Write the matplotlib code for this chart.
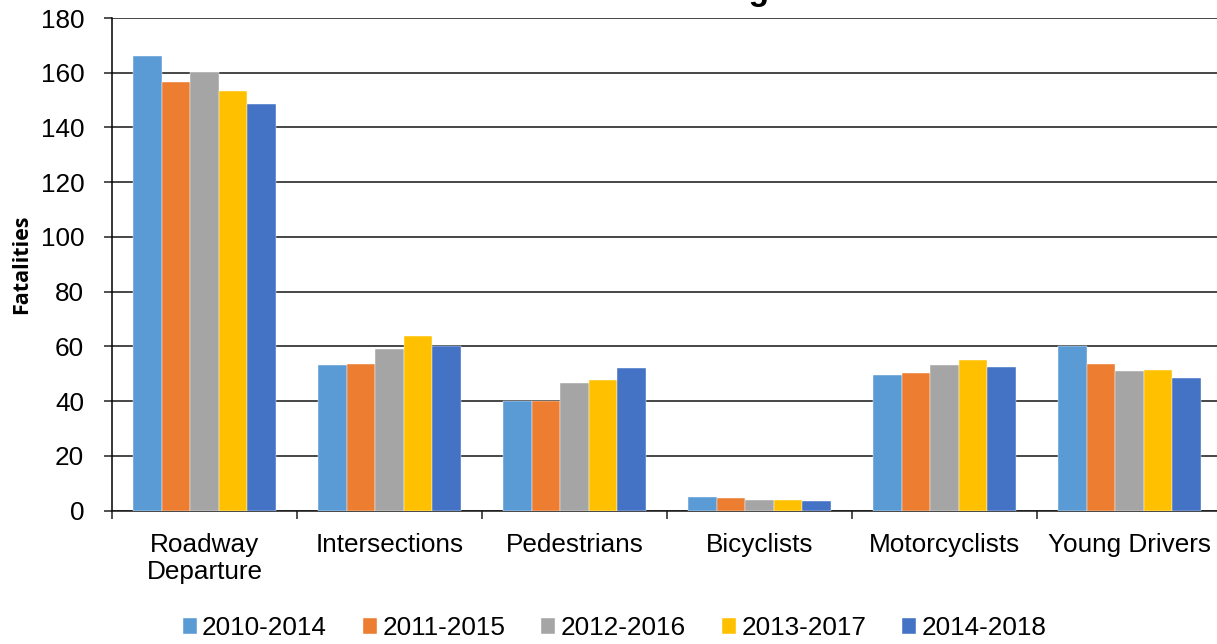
import matplotlib
matplotlib.use("Agg")
import matplotlib.pyplot as plt
import numpy as np

categories = ["Roadway\nDeparture", "Intersections", "Pedestrians", "Bicyclists",
              "Motorcyclists", "Young Drivers"]
series_names = ["2010-2014", "2011-2015", "2012-2016", "2013-2017", "2014-2018"]
v_2010_2014 = [166.0, 53.3, 40.2, 5.1, 49.7, 60.2]
v_2011_2015 = [156.5, 53.6, 40.0, 4.4, 50.4, 53.7]
v_2012_2016 = [160.2, 58.9, 46.6, 4.0, 53.3, 51.1]
v_2013_2017 = [153.2, 63.8, 47.6, 3.7, 55.0, 51.5]
v_2014_2018 = [148.7, 60.0, 52.0, 3.3, 52.6, 48.6]
series_values = [v_2010_2014, v_2011_2015, v_2012_2016, v_2013_2017, v_2014_2018]
colors = ["#5B9BD5", "#ED7D31", "#A5A5A5", "#FFC000", "#4472C4"]
y_ticks = [0, 20, 40, 60, 80, 100, 120, 140, 160, 180]

plt.rcParams['font.family'] = ['Liberation Sans', 'DejaVu Sans']

W, H = 1217, 644
fig = plt.figure(figsize=(W / 100, H / 100), dpi=100)
ax = fig.add_axes([112 / W, 1 - 510.5 / H, (1222 - 112) / W, (510.5 - 18) / H])

x = np.arange(len(categories))
bw = 0.154
n = len(series_names)
for i, (name, vals, c) in enumerate(zip(series_names, series_values, colors)):
    offs = (i - (n - 1) / 2) * bw
    ax.bar(x + offs, vals, width=bw, color=c, label=name, zorder=3,
           edgecolor='white', linewidth=0.3)

ax.set_xlim(-0.5, len(categories) - 0.5)
ax.set_ylim(0, 180)
ax.set_yticks(y_ticks)
ax.set_yticklabels([str(t) for t in y_ticks])
ax.yaxis.grid(True, color='#151515', linewidth=1.1, zorder=0)
ax.set_axisbelow(True)

ax.set_xticks(x)
ax.set_xticklabels(categories, linespacing=1.15)
ax.set_xticks(np.arange(len(categories) + 1) - 0.5, minor=True)
ax.tick_params(axis='x', which='major', length=0, pad=16, labelsize=18.8)
ax.tick_params(axis='x', which='minor', length=6, width=1.1, color='#202020', direction='out')
ax.tick_params(axis='y', length=6, width=1.1, color='#202020', pad=14, labelsize=18.8)

for s in ['top', 'right']:
    ax.spines[s].set_visible(False)
ax.spines['left'].set_color('black')
ax.spines['left'].set_linewidth(1.1)
ax.spines['bottom'].set_color('#151515')
ax.spines['bottom'].set_linewidth(1.1)

ax.set_ylabel("Fatalities", fontsize=15.5, fontweight='bold',
              family=['Open Sans', 'DejaVu Sans'])
ax.yaxis.set_label_coords(-80 / (1222 - 112), 0.5)

fig.text(769 / W, 1.0, "5-Year Rolling", ha='right', va='baseline',
         fontsize=24, fontweight='bold')

leg = fig.legend(loc='center', bbox_to_anchor=(0.505, 1 - 628 / H), ncol=5,
                 frameon=False, fontsize=18.8, handlelength=0.54, handleheight=0.54,
                 handletextpad=0.2, columnspacing=1.38, borderaxespad=0)

fig.savefig("out.png", dpi=100)
